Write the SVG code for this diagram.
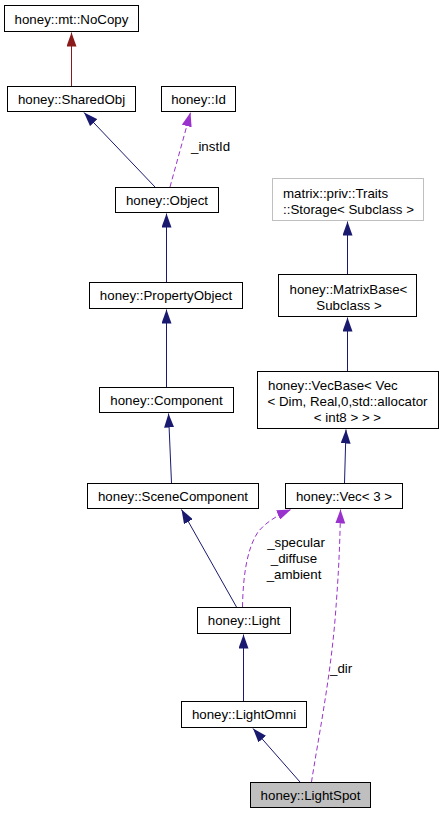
<svg xmlns="http://www.w3.org/2000/svg" width="444" height="816" viewBox="0 0 444 816">
<style>
.node rect{fill:#ffffff;stroke:#000000;stroke-width:1}
.node text{font-family:"Liberation Sans",Arial,sans-serif;font-size:13.3px;fill:#000000}
.c{text-anchor:middle}
.inh{fill:none;stroke:#191970;stroke-width:1}
.priv{fill:none;stroke:#8b1a1a;stroke-width:1}
.use{fill:none;stroke:#9a32cd;stroke-width:1;stroke-dasharray:5,3}
.lbl{font-family:"Liberation Sans",Arial,sans-serif;font-size:13.3px;fill:#000000}
</style>
<defs>
<marker id="ab" viewBox="0 0 14 10" refX="14" refY="5" markerWidth="14" markerHeight="10" markerUnits="userSpaceOnUse" orient="auto"><path d="M0,0 L14,5 L0,10 z" fill="#191970"/></marker>
<marker id="ar" viewBox="0 0 14 10" refX="14" refY="5" markerWidth="14" markerHeight="10" markerUnits="userSpaceOnUse" orient="auto"><path d="M0,0 L14,5 L0,10 z" fill="#8b1a1a"/></marker>
<marker id="ap" viewBox="0 0 14 10" refX="14" refY="5" markerWidth="14" markerHeight="10" markerUnits="userSpaceOnUse" orient="auto"><path d="M0,0 L14,5 L0,10 z" fill="#9a32cd"/></marker>
</defs>
<g id="edges">
<path class="priv" d="M71.5,86 L71.5,32.5" marker-end="url(#ar)"/>
<path class="inh" d="M155,187 L84,112.5" marker-end="url(#ab)"/>
<path class="use" d="M170,187 L190.5,112.5" marker-end="url(#ap)"/>
<text class="lbl" x="191" y="151">_instId</text>
<path class="inh" d="M166.5,282 L166.5,213.5" marker-end="url(#ab)"/>
<path class="inh" d="M166.5,387 L166.5,309.5" marker-end="url(#ab)"/>
<path class="inh" d="M171.5,483 L168.5,413.5" marker-end="url(#ab)"/>
<path class="inh" d="M236.5,607 L181.5,509.5" marker-end="url(#ab)"/>
<path class="use" d="M242.5,607 C243,580 246,550 258,532 C266,522 278,515 291,509.5" marker-end="url(#ap)"/>
<text class="lbl" x="296" y="547" text-anchor="middle">_specular</text>
<text class="lbl" x="294" y="563" text-anchor="middle">_diffuse</text>
<text class="lbl" x="294" y="579" text-anchor="middle">_ambient</text>
<path class="use" d="M311.5,782 C318,740 330,680 335,620 C339,570 340,540 340.5,509.5" marker-end="url(#ap)"/>
<text class="lbl" x="330" y="673">_dir</text>
<path class="inh" d="M243.5,701 L243.5,634.5" marker-end="url(#ab)"/>
<path class="inh" d="M300,782 L253,728.5" marker-end="url(#ab)"/>
<path class="inh" d="M347.5,274 L347.5,221.5" marker-end="url(#ab)"/>
<path class="inh" d="M347.5,371 L347.5,317.5" marker-end="url(#ab)"/>
<path class="inh" d="M344.5,483 L346,429.5" marker-end="url(#ab)"/>
</g>
<g id="NoCopy" class="node"><rect x="4.5" y="5.5" width="134" height="26"/><text class="c" x="71.5" y="23.5">honey::mt::NoCopy</text></g>
<g id="SharedObj" class="node"><rect x="7.5" y="86.5" width="128" height="25"/><text class="c" x="71.5" y="104">honey::SharedObj</text></g>
<g id="Id" class="node"><rect x="161.5" y="86.5" width="74" height="25"/><text class="c" x="198.5" y="104">honey::Id</text></g>
<g id="Object" class="node"><rect x="115.5" y="187.5" width="103" height="25"/><text class="c" x="167" y="205">honey::Object</text></g>
<g id="PropertyObject" class="node"><rect x="89.5" y="282.5" width="153" height="26"/><text class="c" x="166" y="300.3">honey::PropertyObject</text></g>
<g id="Component" class="node"><rect x="99.5" y="387.5" width="134" height="25"/><text class="c" x="166.5" y="405">honey::Component</text></g>
<g id="SceneComponent" class="node"><rect x="87.5" y="483.5" width="171" height="25"/><text class="c" x="173" y="501">honey::SceneComponent</text></g>
<g id="Vec3" class="node"><rect x="285.5" y="483.5" width="117" height="25"/><text class="c" x="344" y="501">honey::Vec&lt; 3 &gt;</text></g>
<g id="Light" class="node"><rect x="197.5" y="607.5" width="93" height="26"/><text class="c" x="244" y="625.3">honey::Light</text></g>
<g id="LightOmni" class="node"><rect x="181.5" y="701.5" width="125" height="26"/><text class="c" x="244" y="719.3">honey::LightOmni</text></g>
<g id="LightSpot" class="node"><rect x="250.5" y="782.5" width="120" height="25" style="fill:#bfbfbf"/><text class="c" x="310.5" y="800">honey::LightSpot</text></g>
<g id="Traits" class="node"><rect x="272.5" y="178.5" width="151" height="42" style="stroke:#bfbfbf"/><text x="283" y="198">matrix::priv::Traits</text><text class="c" x="348.5" y="213.5">::Storage&lt; Subclass &gt;</text></g>
<g id="MatrixBase" class="node"><rect x="278.5" y="274.5" width="138" height="42"/><text x="289.5" y="293.5">honey::MatrixBase&lt;</text><text class="c" x="349" y="309.5">Subclass &gt;</text></g>
<g id="VecBase" class="node"><rect x="257.5" y="371.5" width="181" height="57"/><text x="268" y="390">honey::VecBase&lt; Vec</text><text x="267.5" y="406">&lt; Dim, Real,0,std::allocator</text><text class="c" x="347.5" y="422">&lt; int8 &gt; &gt; &gt;</text></g>
</svg>
